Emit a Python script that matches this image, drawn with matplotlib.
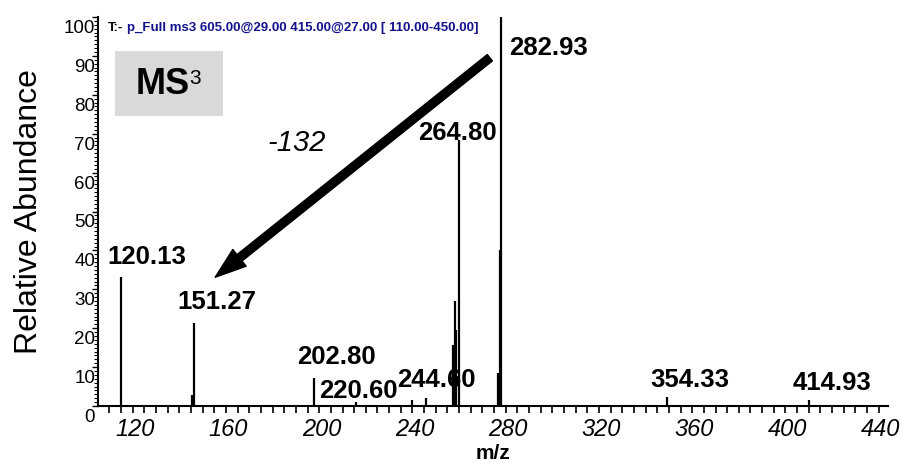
import matplotlib
matplotlib.use("Agg")
import matplotlib.pyplot as plt
from matplotlib.ticker import MultipleLocator
from matplotlib.patches import Rectangle, FancyArrowPatch
import matplotlib.transforms as mtransforms

plt.rcParams['font.family'] = ['Liberation Sans', 'DejaVu Sans']

# ---- data ----
mz = [120.13, 150.6, 151.27, 202.80, 220.60, 244.60, 250.9, 262.5, 263.2,
      263.8, 264.80, 281.8, 282.5, 282.93, 354.33, 414.93]
abundance = [33.2, 2.8, 21.3, 7.2, 0.9, 1.5, 2.0, 15.7, 27.0,
             19.5, 68.4, 8.5, 40.0, 100.0, 2.3, 1.5]

label_mz = ["120.13", "151.27", "202.80", "220.60", "244.60", "264.80",
            "282.93", "354.33", "414.93"]
label_offsets = [(25, 20), (23, 21), (22, 21), (3, 11), (25, 20), (-1, 7),
                 (48, -31), (23, 17), (23, 17)]

x_ticks = [120, 160, 200, 240, 280, 320, 360, 400, 440]
y_ticks = [0, 10, 20, 30, 40, 50, 60, 70, 80, 90, 100]

W, H = 906, 466
fig = plt.figure(figsize=(W / 100, H / 100), dpi=100)
ax = fig.add_axes([98 / W, 1 - 406 / H, (888 - 98) / W, (406 - 17) / H])

ax.vlines(mz, 0, abundance, color='black', lw=1.6)
ax.set_xlim(110.1, 449)
ax.set_ylim(0, 100)

for s in ['top', 'right']:
    ax.spines[s].set_visible(False)
ax.spines['left'].set_linewidth(1.5)
ax.spines['bottom'].set_linewidth(1.5)

ax.set_xticks(x_ticks)
ax.set_xticklabels([str(t) for t in x_ticks], fontsize=17, style='italic')
ax.xaxis.set_minor_locator(MultipleLocator(5))
ax.tick_params(axis='x', which='major', direction='out', length=5, width=1.2, pad=4)
ax.tick_params(axis='x', which='minor', direction='out', length=5, width=1.2)
offs = mtransforms.ScaledTranslation(14 / 100, 0, fig.dpi_scale_trans)
for lab in ax.get_xticklabels():
    lab.set_transform(lab.get_transform() + offs)

ax.set_yticks(y_ticks)
ax.set_yticklabels([str(t) for t in y_ticks], fontsize=13.5, va='top')
ax.yaxis.set_minor_locator(MultipleLocator(1))
ax.tick_params(axis='y', which='major', direction='out', length=4, width=1.0, pad=-2)
ax.tick_params(axis='y', which='minor', direction='out', length=3, width=0.8)
yoffs = mtransforms.ScaledTranslation(0, -3 / 100, fig.dpi_scale_trans)
for lab in ax.get_yticklabels():
    lab.set_transform(lab.get_transform() + yoffs)

ax.set_xlabel('m/z', fontsize=15, fontweight='bold', labelpad=2)
ax.set_ylabel('Relative Abundance', fontsize=23, labelpad=14)

# peak labels
for lbl, (dx, dy) in zip(label_mz, label_offsets):
    xv = float(lbl)
    idx = mz.index(xv)
    ax.annotate(lbl, xy=(xv, abundance[idx]), xytext=(dx * 0.72, dy * 0.72),
                textcoords='offset points', ha='center', va='center',
                fontsize=18.5, fontweight='bold')

# header
hfam = ['Liberation Sans Narrow', 'Liberation Sans']
fig.text(108 / W, 1 - 28 / H, 'T:-', fontsize=9.5, fontweight='bold',
         color='black', va='center', ha='left', family=hfam)
fig.text(127 / W, 1 - 28 / H, 'p_Full ms3 605.00@29.00 415.00@27.00 [ 110.00-450.00]',
         fontsize=9.5, fontweight='bold', color='#12128c', va='center', ha='left',
         family=hfam)

# MS3 box
fig.patches.append(Rectangle((115 / W, 1 - 116 / H), (223 - 115) / W, (116 - 51) / H,
                             transform=fig.transFigure, facecolor='#d9d9d9',
                             edgecolor='none', zorder=0))
fig.text(163 / W, 1 - 85 / H, 'MS', fontsize=26, fontweight='bold', ha='center', va='center')
fig.text(189 / W, 1 - 79 / H, '3', fontsize=15, ha='left', va='center')

# arrow
arrow = FancyArrowPatch((492 / W, 1 - 56 / H), (213 / W, 1 - 279 / H),
                        transform=fig.transFigure,
                        arrowstyle='simple,head_length=1.6,head_width=1.1,tail_width=0.42',
                        mutation_scale=14, color='black')
fig.patches.append(arrow)
fig.text(297 / W, 1 - 143 / H, '-132', fontsize=21, style='italic', ha='center', va='center')

fig.savefig('out.png', dpi=100)
